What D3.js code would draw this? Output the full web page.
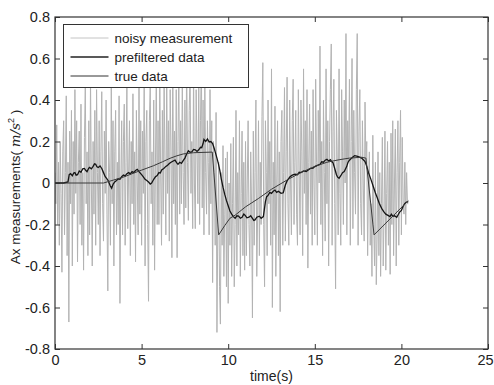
<!DOCTYPE html>
<html>
<head>
<meta charset="utf-8">
<script src="https://cdn.jsdelivr.net/npm/d3@7"></script>
<style>
  html, body { margin: 0; padding: 0; background: #fff; }
  svg { display: block; font-family: "Liberation Sans", Arial, sans-serif; }
</style>
</head>
<body>
<svg id="chart" width="494" height="385"></svg>
<script>
// noisy measurement, one sample every 0.05 s from t = 0 (one row per second)
const noisyStep = 0.05;
const noisy = [
  0.05, -0.1, 0.28, -0.2, 0.1, -0.3, 0.2, -0.05, -0.43, 0.15, 0.3, -0.25, 0.05, 0.42, -0.35, 0.1, -0.67, 0.25, -0.1, 0.35,
  -0.4, 0.2, -0.15, 0.45, -0.05, 0.3, -0.38, 0.1, 0.25, -0.2, 0.38, -0.3, 0.05, -0.42, 0.22, 0.47, -0.1, 0.15, -0.35, 0.3,
  -0.25, 0.5, 0.0, -0.4, 0.2, -0.15, 0.35, -0.3, 0.45, 0.05, -0.2, 0.3, -0.35, 0.15, 0.44, -0.1, -0.28, 0.25, -0.05, 0.4,
  -0.15, -0.52, 0.2, 0.05, -0.3, 0.48, -0.1, 0.3, -0.4, 0.15, 0.35, -0.25, 0.1, -0.2, 0.42, -0.58, 0.0, 0.3, -0.25, 0.2,
  0.38, -0.3, 0.1, 0.46, -0.22, 0.05, 0.3, -0.35, 0.2, -0.1, 0.43, -0.2, 0.15, -0.38, 0.35, 0.0, -0.25, 0.5, -0.15, 0.3,
  -0.3, 0.25, -0.05, 0.5, -0.4, 0.2, 0.35, -0.2, -0.57, 0.3, 0.48, -0.1, 0.15, -0.3, 0.4, -0.42, 0.1, 0.55, -0.2, 0.3,
  -0.2, 0.5, 0.05, -0.3, 0.35, -0.15, 0.48, 0.1, -0.25, 0.52, -0.05, 0.3, -0.28, 0.45, 0.15, -0.36, 0.6, -0.1, 0.25, -0.2,
  0.45, -0.36, 0.2, 0.55, -0.15, 0.3, -0.1, 0.5, 0.05, -0.2, 0.4, -0.12, 0.6, 0.1, -0.18, 0.35, 0.55, -0.05, 0.2, -0.22,
  0.55, 0.0, -0.22, 0.45, 0.15, -0.1, 0.52, -0.2, 0.3, 0.6, -0.12, 0.4, -0.25, 0.5, 0.05, -0.15, 0.3, 0.1, -0.25, 0.45,
  -0.1, 0.3, -0.48, 0.2, 0.05, -0.3, 0.34, -0.72, -0.2, 0.1, -0.5, -0.68, 0.05, -0.3, 0.18, -0.45, -0.15, 0.12, -0.5, 0.15,
  -0.58, 0.0, -0.3, 0.19, -0.45, -0.1, 0.22, -0.5, -0.2, 0.35, -0.4, 0.05, -0.25, 0.3, -0.45, -0.05, 0.25, -0.35, 0.1, -0.42,
  0.2, -0.35, 0.0, 0.3, -0.2, -0.4, 0.15, -0.1, -0.65, 0.25, -0.3, 0.05, 0.4, -0.45, -0.15, 0.3, -0.35, 0.1, -0.2, 0.32,
  0.58, -0.2, -0.5, 0.3, 0.05, -0.35, 0.4, -0.1, 0.2, -0.3, 0.55, -0.6, 0.1, -0.25, 0.37, -0.45, 0.0, 0.3, -0.35, 0.15,
  -0.62, 0.2, 0.35, -0.3, 0.05, 0.46, -0.28, 0.15, 0.51, -0.1, -0.3, 0.4, 0.0, -0.25, 0.3, 0.5, -0.2, 0.1, 0.35, -0.15,
  -0.3, 0.45, 0.05, -0.25, 0.4, 0.15, -0.35, 0.55, -0.05, 0.3, -0.2, 0.45, -0.41, 0.1, 0.38, -0.15, 0.25, -0.3, 0.45, 0.0,
  -0.25, 0.5, 0.1, -0.3, 0.35, 0.0, 0.66, -0.2, 0.2, -0.35, 0.4, 0.05, -0.28, 0.55, -0.1, 0.3, -0.4, 0.2, 0.45, 0.67,
  -0.3, 0.25, 0.5, -0.1, -0.51, 0.35, 0.1, -0.25, 0.55, -0.05, -0.3, 0.45, 0.15, -0.2, 0.4, 0.0, 0.72, -0.25, 0.3, 0.1,
  0.5, -0.3, 0.2, 0.6, -0.22, 0.35, 0.05, -0.15, 0.45, 0.72, -0.3, 0.25, 0.45, -0.1, -0.25, 0.3, 0.0, -0.28, 0.39, 0.1,
  0.2, -0.35, 0.0, 0.15, -0.3, -0.1, -0.45, 0.23, -0.2, -0.4, 0.1, -0.49, -0.25, 0.15, -0.35, 0.05, -0.45, -0.1, 0.22, -0.4,
  -0.15, 0.25, -0.42, -0.05, 0.2, -0.3, 0.1, -0.44, 0.24, -0.2, 0.3, -0.35, 0.0, 0.26, -0.4, 0.05, 0.3, -0.3, 0.1, 0.35,
  -0.25, 0.22, -0.1, -0.15, 0.1, -0.2, 0.05, -0.1, -0.1
];

// prefiltered data [t, value]
const prefiltered = [
  [0, 0], [0.5, 0], [0.75, 0.005], [0.82, 0.04], [0.9, 0.045], [1.0, 0.035], [1.08, 0.048],
  [1.15, 0.05], [1.22, 0.038], [1.3, 0.04], [1.4, 0.058], [1.5, 0.052], [1.6, 0.068], [1.7, 0.07],
  [1.78, 0.06], [1.85, 0.055], [1.95, 0.072], [2.0, 0.075], [2.1, 0.068], [2.2, 0.08], [2.28, 0.092],
  [2.35, 0.09], [2.42, 0.078], [2.5, 0.075], [2.6, 0.082], [2.7, 0.07], [2.8, 0.05], [2.9, 0.03],
  [3.0, 0.02], [3.08, 0.01], [3.18, -0.012], [3.27, -0.025], [3.36, -0.005], [3.45, 0.005],
  [3.55, 0.012], [3.65, 0.02], [3.75, 0.018], [3.85, 0.03], [3.95, 0.038], [4.05, 0.034],
  [4.15, 0.045], [4.25, 0.05], [4.35, 0.044], [4.45, 0.055], [4.55, 0.05], [4.65, 0.06],
  [4.75, 0.066], [4.85, 0.055], [5.0, 0.04], [5.1, 0.03], [5.2, 0.018], [5.3, 0.012], [5.4, 0.005],
  [5.5, -0.005], [5.58, 0], [5.7, 0.018], [5.8, 0.03], [5.9, 0.036], [6.0, 0.05], [6.08, 0.048],
  [6.16, 0.063], [6.28, 0.07], [6.4, 0.08], [6.5, 0.086], [6.6, 0.094], [6.7, 0.1], [6.8, 0.105],
  [6.93, 0.11], [7.02, 0.098], [7.1, 0.09], [7.2, 0.1], [7.3, 0.095], [7.4, 0.108], [7.5, 0.12],
  [7.6, 0.14], [7.7, 0.155], [7.8, 0.148], [7.9, 0.15], [8.0, 0.162], [8.1, 0.16], [8.2, 0.152],
  [8.3, 0.16], [8.4, 0.172], [8.47, 0.17], [8.55, 0.19], [8.6, 0.21], [8.7, 0.2], [8.8, 0.212],
  [8.9, 0.198], [9.0, 0.2], [9.1, 0.19], [9.18, 0.17], [9.25, 0.15], [9.35, 0.12], [9.43, 0.095],
  [9.52, 0.06], [9.6, 0.02], [9.7, -0.02], [9.8, -0.055], [9.9, -0.085], [10.0, -0.11],
  [10.1, -0.135], [10.2, -0.15], [10.3, -0.162], [10.4, -0.17], [10.5, -0.158], [10.6, -0.16],
  [10.7, -0.17], [10.8, -0.165], [10.9, -0.15], [10.97, -0.155], [11.08, -0.168], [11.2, -0.165],
  [11.3, -0.158], [11.4, -0.17], [11.48, -0.18], [11.55, -0.178], [11.65, -0.165], [11.8, -0.16],
  [11.9, -0.17], [12.03, -0.162], [12.1, -0.12], [12.15, -0.09], [12.22, -0.066], [12.3, -0.06],
  [12.4, -0.045], [12.5, -0.05], [12.6, -0.04], [12.7, -0.034], [12.8, -0.045], [12.9, -0.04],
  [13.05, -0.05], [13.18, -0.047], [13.3, -0.01], [13.4, 0.01], [13.5, 0.022], [13.57, 0.03],
  [13.7, 0.038], [13.86, 0.043], [14.0, 0.04], [14.1, 0.052], [14.2, 0.05], [14.35, 0.058],
  [14.5, 0.055], [14.62, 0.063], [14.75, 0.07], [14.9, 0.072], [15.0, 0.079], [15.15, 0.085],
  [15.3, 0.09], [15.4, 0.102], [15.5, 0.1], [15.6, 0.11], [15.7, 0.114], [15.8, 0.106],
  [15.9, 0.112], [15.97, 0.103], [16.05, 0.098], [16.15, 0.07], [16.25, 0.04], [16.32, 0.028],
  [16.4, 0.023], [16.5, 0.035], [16.6, 0.05], [16.7, 0.055], [16.84, 0.079], [16.92, 0.1],
  [17.0, 0.11], [17.1, 0.118], [17.2, 0.125], [17.3, 0.132], [17.42, 0.13], [17.55, 0.126],
  [17.7, 0.12], [17.8, 0.112], [17.9, 0.103], [18.0, 0.08], [18.1, 0.05], [18.25, 0.015],
  [18.38, -0.018], [18.5, -0.048], [18.6, -0.07], [18.72, -0.098], [18.86, -0.122], [18.98, -0.138],
  [19.1, -0.15], [19.2, -0.155], [19.34, -0.162], [19.42, -0.15], [19.5, -0.16], [19.6, -0.158],
  [19.73, -0.165], [19.82, -0.152], [19.9, -0.14], [20.0, -0.132], [20.1, -0.112], [20.2, -0.098],
  [20.3, -0.092], [20.4, -0.09]
];

// true data [t, value]
const trueData = [
  [0, 0], [2.8, 0], [3.37, 0.014], [4.0, 0.03], [4.52, 0.047], [5.0, 0.062], [5.68, 0.083],
  [6.2, 0.102], [6.64, 0.119], [7.0, 0.13], [7.4, 0.14], [8.0, 0.146], [9.08, 0.149],
  [9.45, -0.25], [9.8, -0.205], [10.1, -0.17], [10.4, -0.155], [11.0, -0.115],
  [11.74, -0.075], [12.5, -0.03], [13.47, 0.018], [14.2, 0.05], [15.0, 0.08],
  [15.7, 0.1], [16.4, 0.112], [17.0, 0.12], [17.7, 0.124], [17.95, 0.12],
  [18.42, -0.25], [20.4, -0.085]
];

const xTicks = [0, 5, 10, 15, 20, 25];
const yTicks = [-0.8, -0.6, -0.4, -0.2, 0, 0.2, 0.4, 0.6, 0.8];
const legendItems = [
  { label: 'noisy measurement', color: '#c4c4c4', width: 1 },
  { label: 'prefiltered data', color: '#222', width: 1.4 },
  { label: 'true data', color: '#333', width: 1 }
];

const width = 494;
const height = 385;
const margin = { top: 17, right: 6, bottom: 36, left: 55 };

const svg = d3.select('#chart');
const x = d3.scaleLinear().domain([0, 25]).range([margin.left, width - margin.right]);
const y = d3.scaleLinear().domain([-0.8, 0.8]).range([height - margin.bottom, margin.top]);
const fmtY = (v) => (v === 0 ? '0' : v.toFixed(1));

svg.append('defs').append('clipPath').attr('id', 'plot')
  .append('rect').attr('x', x(0)).attr('y', y(0.8)).attr('width', x(25) - x(0)).attr('height', y(-0.8) - y(0.8));

const plot = svg.append('g').attr('clip-path', 'url(#plot)');
const line = d3.line().x((d) => x(d[0])).y((d) => y(d[1]));

plot.append('path')
  .datum(noisy.map((v, i) => [i * noisyStep, v]))
  .attr('fill', 'none').attr('stroke', '#b3b3b3').attr('stroke-width', 1)
  .attr('d', line);

plot.append('path').datum(prefiltered)
  .attr('fill', 'none').attr('stroke', '#141414').attr('stroke-width', 1.3)
  .attr('d', line);

plot.append('path').datum(trueData)
  .attr('fill', 'none').attr('stroke', '#3a3a3a').attr('stroke-width', 1)
  .attr('d', line);

// axes, MATLAB style: ticks pointing inward on all four sides
const styleAxis = (g) => {
  g.select('.domain').remove();
  g.selectAll('line').attr('stroke', '#333');
  g.selectAll('text').attr('fill', '#222').attr('font-size', 14.5)
    .attr('font-family', '"Liberation Sans", Arial, sans-serif');
};

const bottomAxis = svg.append('g').attr('transform', `translate(0,${y(-0.8)})`)
  .call(d3.axisBottom(x).tickValues(xTicks).tickFormat(d3.format('d')).tickSize(-5).tickPadding(6))
  .call(styleAxis);
bottomAxis.selectAll('text').filter((d) => d === 25).attr('dx', -3);
svg.append('g').attr('transform', `translate(0,${y(0.8)})`)
  .call(d3.axisTop(x).tickValues(xTicks).tickFormat('').tickSize(-5))
  .call(styleAxis);
svg.append('g').attr('transform', `translate(${x(0)},0)`)
  .call(d3.axisLeft(y).tickValues(yTicks).tickFormat(fmtY).tickSize(-5).tickPadding(5))
  .call(styleAxis);
svg.append('g').attr('transform', `translate(${x(25)},0)`)
  .call(d3.axisRight(y).tickValues(yTicks).tickFormat('').tickSize(-5))
  .call(styleAxis);

svg.append('rect')
  .attr('x', x(0)).attr('y', y(0.8))
  .attr('width', x(25) - x(0)).attr('height', y(-0.8) - y(0.8))
  .attr('fill', 'none').attr('stroke', '#333').attr('stroke-width', 1.2);

// legend
const legend = svg.append('g').attr('transform', 'translate(63.5,24.5)');
legend.append('rect').attr('width', 185).attr('height', 63)
  .attr('fill', '#fff').attr('stroke', '#333').attr('stroke-width', 1);
legendItems.forEach((item, i) => {
  const row = legend.append('g').attr('transform', `translate(0,${13.5 + i * 19})`);
  row.append('line').attr('x1', 7).attr('x2', 45)
    .attr('stroke', item.color).attr('stroke-width', item.width);
  row.append('text').attr('x', 51).attr('dy', '0.35em')
    .attr('font-size', 13.5).attr('fill', '#222').text(item.label);
});

// axis titles
svg.append('text')
  .attr('x', (x(0) + x(25)) / 2).attr('y', 381)
  .attr('text-anchor', 'middle').attr('font-size', 14).attr('fill', '#222')
  .text('time(s)');

const yTitle = svg.append('text')
  .attr('transform', `translate(20,${(y(0.8) + y(-0.8)) / 2 + 4}) rotate(-90)`)
  .attr('text-anchor', 'middle').attr('font-size', 13.5).attr('fill', '#222');
yTitle.append('tspan').text('Ax measurements( ');
yTitle.append('tspan').attr('font-family', '"DejaVu Serif", serif').attr('font-style', 'italic').text('m/s');
yTitle.append('tspan').attr('font-size', 9).attr('dy', -6).text('2');
yTitle.append('tspan').attr('dy', 6).text(' )');
</script>
</body>
</html>
